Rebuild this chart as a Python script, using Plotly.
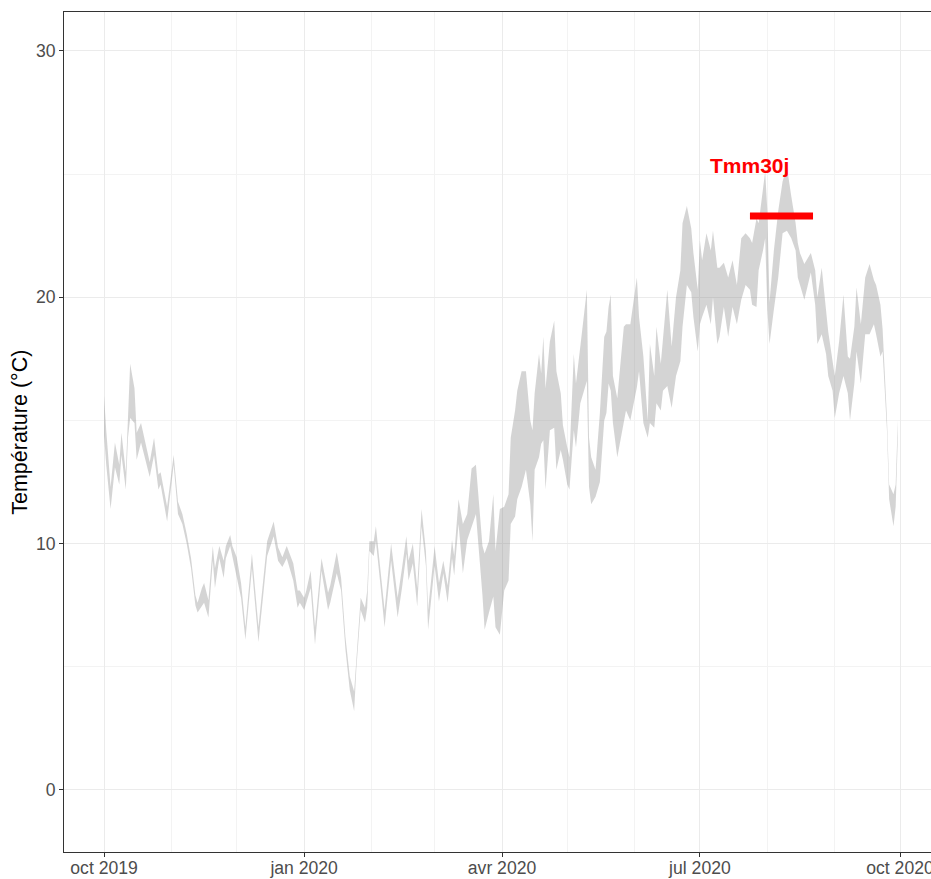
import pandas as pd
import plotly.graph_objects as go

# daily temperature envelope, days counted from 1 Oct 2019
DAYS = [0, 1, 3, 5, 7, 8, 10, 11, 12, 14, 15, 17, 19, 20, 21, 23, 25, 26, 29, 32,
        34, 36, 38, 40, 42, 43, 45, 46, 48, 50, 51, 53, 55, 56, 58, 59, 61, 63, 65, 68,
        71, 75, 78, 80, 82, 84, 87, 89, 90, 92, 93, 95, 97, 100, 103, 104, 107, 109, 111, 113,
        115, 116, 118, 120, 121, 122, 124, 125, 127, 129, 132, 135, 137, 139, 140, 142, 144, 146, 148, 149,
        152, 154, 156, 158, 160, 161, 163, 165, 167, 169, 171, 174, 175, 177, 179, 180, 182, 184, 186, 187,
        189, 190, 192, 194, 196, 197, 198, 200, 201, 202, 203, 205, 207, 208, 210, 211, 213, 214, 216, 217,
        219, 222, 223, 224, 226, 228, 230, 231, 232, 233, 234, 236, 239, 240, 242, 245, 246, 248, 250, 251,
        253, 254, 256, 257, 259, 261, 263, 265, 266, 268, 270, 271, 273, 274, 275, 277, 279, 280, 282, 283,
        285, 287, 289, 291, 293, 295, 297, 298, 300, 301, 303, 304, 305, 306, 308, 310, 312, 314, 316, 318,
        319, 320, 322, 325, 327, 328, 330, 332, 333, 335, 336, 338, 340, 342, 343, 345, 346, 348, 350, 352,
        354, 355, 357, 358, 360, 361, 363, 364, 365]
T_LOW = [14.4, 13.2, 11.4, 13.1, 12.4, 13.6, 12.2, 14.3, 15.1, 14.9, 13.4, 14.1, 13.4, 13.1, 12.7, 13.6, 12.2, 12.4, 10.9, 13.2,
         11.2, 10.8, 10.0, 9.0, 7.5, 7.2, 7.5, 7.6, 7.0, 9.3, 8.2, 9.4, 8.6, 9.4, 9.9, 9.5, 8.65, 7.8, 6.1, 9.0,
         6.0, 9.5, 10.3, 9.3, 9.05, 9.4, 8.5, 7.4, 7.6, 7.3, 7.6, 8.2, 5.9, 8.9, 7.3, 7.6, 8.8, 8.1, 5.7, 4.05,
         3.2, 4.9, 7.3, 6.8, 7.4, 9.7, 9.5, 10.1, 8.4, 6.6, 9.3, 7.0, 8.2, 9.6, 8.5, 9.2, 7.45, 10.7, 9.1, 6.5,
         9.1, 7.65, 8.8, 7.6, 9.4, 8.7, 10.8, 8.8, 10.15, 10.7, 11.2, 7.9, 6.5, 7.2, 7.85, 6.6, 6.3, 8.1, 8.5, 10.8,
         11.1, 11.8, 12.3, 13.0, 11.6, 10.1, 13.0, 13.5, 14.05, 14.2, 12.2, 14.6, 14.7, 13.0, 13.8, 13.4, 12.4, 12.2, 14.6, 13.9,
         15.7, 16.6, 12.3, 11.6, 11.9, 12.5, 15.0, 15.3, 16.5, 16.2, 14.9, 13.5, 15.0, 15.4, 15.0, 16.35, 17.0, 14.9, 14.3, 14.9,
         14.7, 15.7, 15.4, 16.2, 16.4, 15.5, 16.8, 17.4, 18.8, 20.5, 20.2, 19.2, 17.8, 18.9, 19.2, 19.7, 18.9, 20.0, 18.1, 18.4,
         19.6, 18.4, 19.6, 18.9, 19.9, 20.5, 20.3, 19.7, 19.6, 21.1, 21.9, 22.4, 19.5, 18.1, 19.5, 20.8, 22.6, 22.7, 22.4, 21.9,
         20.8, 20.5, 19.9, 21.0, 19.7, 18.1, 18.5, 17.7, 16.8, 16.2, 15.1, 16.1, 16.8, 16.1, 15.0, 16.5, 17.8, 16.5, 18.5, 18.5,
         18.9, 18.5, 17.6, 17.8, 14.6, 11.8, 10.7, 11.5, 14.3]
T_HIGH = [16.0, 14.6, 12.3, 14.1, 13.2, 14.5, 12.9, 14.9, 17.3, 16.3, 14.5, 14.9, 14.0, 13.7, 13.3, 14.3, 12.8, 12.9, 11.5, 13.6,
          11.7, 11.2, 10.4, 9.4, 7.9, 7.6, 8.2, 8.4, 7.7, 9.9, 9.0, 9.9, 9.3, 9.9, 10.35, 9.9, 9.45, 8.4, 6.6, 9.6,
          6.6, 10.1, 10.9, 9.85, 9.45, 9.9, 9.2, 8.1, 8.1, 7.8, 8.1, 8.9, 6.6, 9.4, 8.0, 8.3, 9.65, 8.6, 6.2, 4.6,
          4.0, 5.4, 7.8, 7.4, 8.1, 10.1, 10.1, 10.7, 8.9, 7.3, 10.0, 7.8, 9.0, 10.3, 9.3, 10.0, 8.2, 11.4, 9.7, 7.3,
          9.9, 8.4, 9.3, 8.3, 10.15, 9.5, 11.8, 10.8, 11.2, 13.05, 13.2, 9.9, 9.6, 10.1, 12.0, 9.7, 11.4, 11.5, 12.0, 14.3,
          15.4, 16.2, 17.0, 17.0, 15.0, 14.6, 16.1, 17.7, 16.9, 18.4, 16.3, 18.2, 19.05, 17.0, 16.1, 14.8, 13.9, 13.5, 17.7, 16.5,
          18.0, 20.3, 14.3, 13.5, 13.0, 15.3, 18.4, 18.6, 19.6, 20.1, 16.8, 15.9, 18.8, 18.9, 18.9, 20.8, 19.2, 17.6, 15.0, 18.1,
          16.8, 18.8, 17.3, 18.4, 20.3, 18.0, 20.0, 21.1, 23.0, 23.7, 22.8, 21.8, 20.3, 22.3, 21.5, 22.6, 21.9, 22.7, 21.2, 21.2,
          21.4, 20.8, 21.5, 20.5, 22.4, 22.6, 22.4, 22.2, 23.2, 23.0, 24.5, 25.1, 23.5, 19.8, 21.9, 23.5, 24.7, 25.3, 24.1, 23.0,
          22.2, 21.8, 21.35, 21.8, 21.1, 20.0, 21.2, 19.6, 18.6, 17.4, 16.8, 18.2, 20.1, 17.6, 17.5, 18.8, 20.4, 18.9, 20.8, 21.35,
          20.7, 20.5, 19.7, 18.7, 15.1, 12.4, 12.0, 12.4, 15.0]

# 30-day mean of the maxima
TMM30_START = "2020-07-24"
TMM30_END = "2020-08-22"
TMM30_VALUE = 23.3
TMM30_LABEL = "Tmm30j"

TICK_DATES = ["2019-10-01", "2020-01-01", "2020-04-01", "2020-07-01", "2020-10-01"]
TICK_LABELS = ["oct 2019", "jan 2020", "avr 2020", "jul 2020", "oct 2020"]

FONT = "Liberation Sans, Arial, Helvetica, sans-serif"
RIBBON = "rgba(128,128,128,0.34)"
GRID = "#ebebeb"
MINOR_GRID = "#f3f3f3"
AXIS = "#333333"
TICK_TEXT = "#4d4d4d"

dates = pd.Timestamp("2019-10-01") + pd.to_timedelta(DAYS, unit="D")

fig = go.Figure()
fig.add_trace(go.Scatter(x=dates, y=T_LOW, mode="lines", line=dict(width=0),
                         showlegend=False, hoverinfo="skip"))
fig.add_trace(go.Scatter(x=dates, y=T_HIGH, mode="lines", line=dict(width=0),
                         fill="tonexty", fillcolor=RIBBON, showlegend=False))
fig.add_trace(go.Scatter(x=[TMM30_START, TMM30_END], y=[TMM30_VALUE, TMM30_VALUE],
                         mode="lines", line=dict(color="#ff0000", width=7),
                         showlegend=False))

fig.add_annotation(x=TMM30_START, y=25.35, text="<b>" + TMM30_LABEL + "</b>",
                   showarrow=False, xanchor="center", yanchor="middle",
                   font=dict(family=FONT, size=21, color="#ff0000"))
fig.add_annotation(x=-0.051, y=0.5, xref="paper", yref="paper",
                   text="Température (°C)", textangle=-90, showarrow=False,
                   xanchor="center", yanchor="middle",
                   font=dict(family=FONT, size=21.5, color="#000000"))

fig.update_layout(
    width=931,
    height=879,
    margin=dict(l=64, r=0, t=12, b=27),
    paper_bgcolor="white",
    plot_bgcolor="white",
    font=dict(family=FONT),
    xaxis=dict(
        type="date",
        range=["2019-09-12 14:00", "2020-10-15 06:00"],
        tickmode="array",
        tickvals=TICK_DATES,
        ticktext=TICK_LABELS,
        ticks="outside",
        ticklen=4,
        tickcolor=AXIS,
        tickfont=dict(size=17.6, color=TICK_TEXT),
        ticklabelstandoff=-4,
        ticklabeloverflow="allow",
        showline=True,
        mirror=True,
        linecolor=AXIS,
        linewidth=1,
        showgrid=True,
        gridcolor=GRID,
        gridwidth=1.1,
        zeroline=False,
        automargin=False,
        minor=dict(tick0="2019-10-01", dtick="M1", showgrid=True,
                   gridcolor=MINOR_GRID, gridwidth=0.6, ticks=""),
    ),
    yaxis=dict(
        range=[-2.52, 31.58],
        tick0=0,
        dtick=10,
        ticks="outside",
        ticklen=4,
        tickcolor=AXIS,
        tickfont=dict(size=17.6, color=TICK_TEXT),
        showline=True,
        linecolor=AXIS,
        linewidth=1,
        showgrid=True,
        gridcolor=GRID,
        gridwidth=1.1,
        zeroline=False,
        automargin=False,
        minor=dict(tick0=0, dtick=5, showgrid=True,
                   gridcolor=MINOR_GRID, gridwidth=0.6, ticks=""),
    ),
)

# drop the default page margin so the figure fills the window exactly
fig.write_html("out.html", config={"displayModeBar": False},
               post_script="document.body.style.margin='0';document.body.style.overflow='hidden';")
